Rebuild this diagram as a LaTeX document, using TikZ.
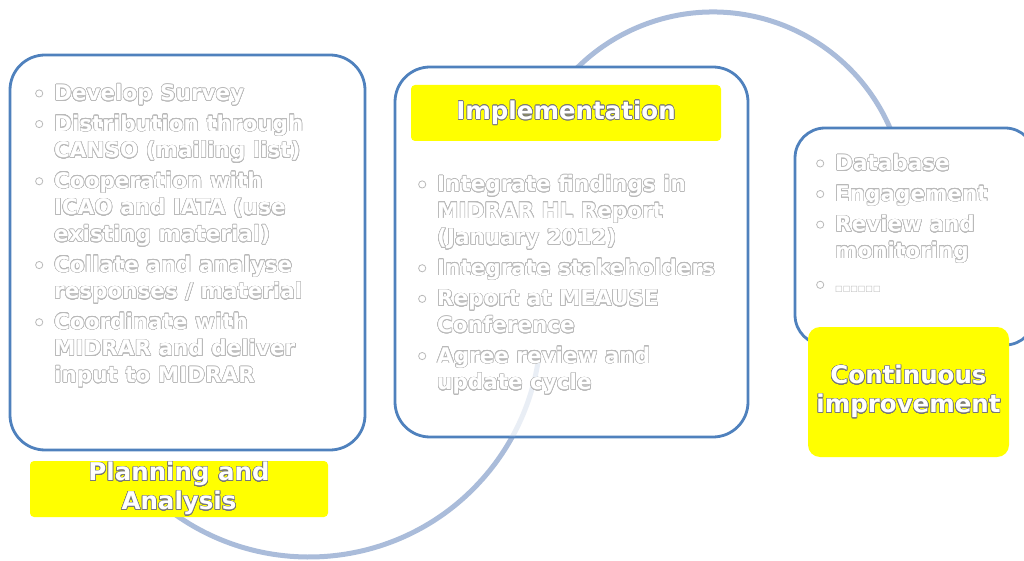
\documentclass[tikz,border=0pt]{standalone}
\usepackage{fontspec}
\setmainfont{DejaVu Sans}
\usepackage[copies]{contour}
\contournumber{24}
\contourlength{0.55pt}
\usetikzlibrary{calc}

\definecolor{boxline}{RGB}{79,129,189}
\definecolor{cyclearc}{RGB}{170,188,218}
\definecolor{labelfill}{RGB}{255,255,0}
\definecolor{bodyrim}{RGB}{185,185,185}
\definecolor{labelrim}{RGB}{120,120,120}

% hollow bullet and list lines with outlined white lettering
\newcommand\ringmark{\tikz[baseline={(0,-0.33em)}]\draw[bodyrim,fill=white,line width=0.8pt](0,0) circle[radius=3.6pt];}
\newcommand\itm[1]{\makebox[19pt][l]{\ringmark}\contour{bodyrim}{#1}}
\newcommand\cnt[1]{\hspace*{19pt}\contour{bodyrim}{#1}}
\newcommand\lbl[1]{\contour{labelrim}{#1}}

\begin{document}
\begin{tikzpicture}[x=1pt,y=1pt,
  cycle arc/.style={draw=cyclearc,line width=5pt},
  stagebox/.style={draw=boxline,line width=2.8pt,fill=white,rounded corners=35pt,inner sep=0pt},
  stagelabel/.style={fill=labelfill,rounded corners=4pt,inner sep=0pt,align=center,
    text=white,font=\bfseries\fontsize{24.5}{29}\selectfont},
  bodytext/.style={align=left,anchor=north west,inner sep=0pt,text=white,
    font=\bfseries\fontsize{21.5}{26.6}\selectfont}]
\useasboundingbox (0,0) rectangle (1024,560);

% the cycle curve behind the stages
\coordinate (lowhub) at (309,235);
\coordinate (highhub) at (713,355);
\draw[cycle arc] (lowhub) ++(-130:232pt) arc[start angle=-130,end angle=15,radius=232pt]
  -- ([shift={(200:193pt)}]highhub) arc[start angle=200,end angle=22,radius=193pt];

% stage frames
\node[stagebox,minimum width=355pt,minimum height=395pt] (planbox) at (187.5,307.5) {};
\node[stagebox,minimum width=353pt,minimum height=370pt] (implbox) at (571.5,308) {};
\node[stagebox,rounded corners=30pt,minimum width=240pt,minimum height=217pt] (contbox) at (915,323.5) {};

% curve faintly seen through the implementation frame
\begin{scope}
  \clip[rounded corners=35pt] (395,123) rectangle (748,493);
  \draw[cycle arc,opacity=0.25] (lowhub) ++(-35:232pt) arc[start angle=-35,end angle=-8,radius=232pt];
\end{scope}

% stage labels
\node[stagelabel,minimum width=298pt,minimum height=56pt] (planlabel) at (179,71)
  {\lbl{Planning and}\\\lbl{Analysis}};
\node[stagelabel,minimum width=310pt,minimum height=56pt] (impllabel) at (566,447)
  {\lbl{Implementation}};
\node[stagelabel,rounded corners=12pt,minimum width=201pt,minimum height=130pt] (contlabel) at (908.5,168)
  {\lbl{Continuous}\\\lbl{improvement}};

% stage contents
\node[bodytext] (plantext) at (35,476) {%
  \itm{Develop Survey}\\[4pt]
  \itm{Distribution through}\\
  \cnt{CANSO (mailing list)}\\[4pt]
  \itm{Cooperation with}\\
  \cnt{ICAO and IATA (use}\\
  \cnt{existing material)}\\[4pt]
  \itm{Collate and analyse}\\
  \cnt{responses / material}\\[4pt]
  \itm{Coordinate with}\\
  \cnt{MIDRAR and deliver}\\
  \cnt{input to MIDRAR}};

\node[bodytext] (impltext) at (418,385) {%
  \itm{Integrate findings in}\\
  \cnt{MIDRAR HL Report}\\
  \cnt{(January 2012)}\\[4pt]
  \itm{Integrate stakeholders}\\[4pt]
  \itm{Report at MEAUSE}\\
  \cnt{Conference}\\[4pt]
  \itm{Agree review and}\\
  \cnt{update cycle}};

\node[bodytext] (conttext) at (816,406) {%
  \itm{Database}\\[4pt]
  \itm{Engagement}\\[4pt]
  \itm{Review and}\\
  \cnt{monitoring}\\[7pt]
  \makebox[19pt][l]{\ringmark}{\color{bodyrim}\fontsize{8}{8}\selectfont □□□□□□}};
\end{tikzpicture}
\end{document}
